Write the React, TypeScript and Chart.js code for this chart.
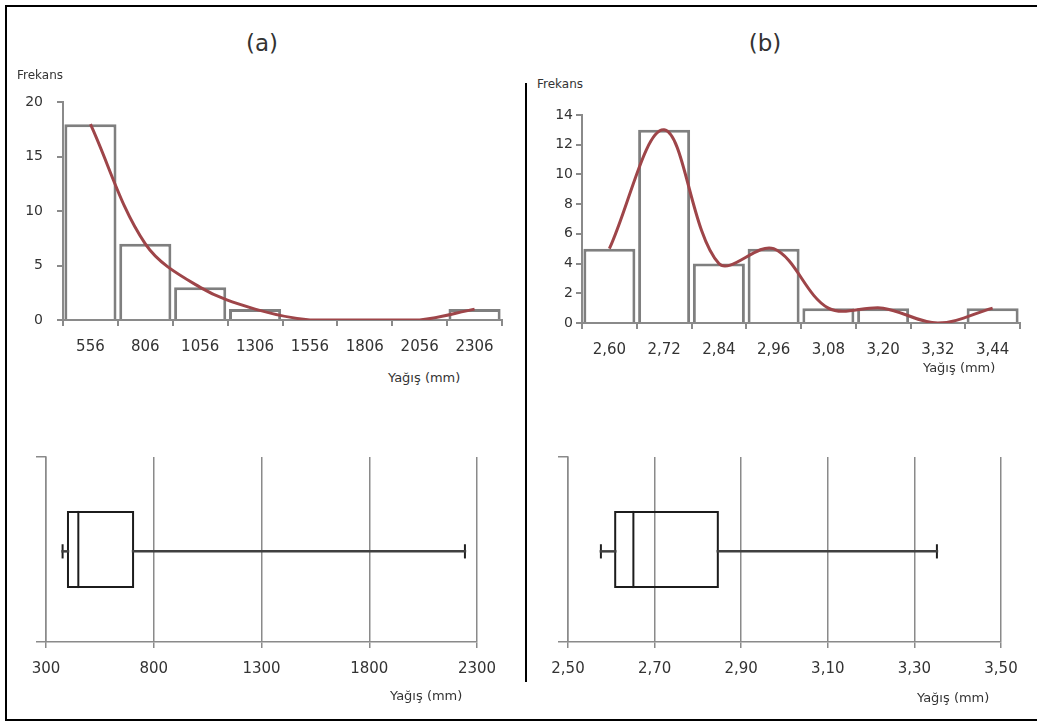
import React, { useEffect, useRef } from "react";
import { Chart, registerables } from "chart.js";

Chart.register(...registerables);

// ---------- data ----------
const histACategories = ["556", "806", "1056", "1306", "1556", "1806", "2056", "2306"];
const histAFrequency = [18, 7, 3, 1, 0, 0, 0, 1];
const histACurve = [18, 7, 3, 1, 0, 0, 0, 1];
const histAYTicks = [0, 5, 10, 15, 20];

const histBCategories = ["2,60", "2,72", "2,84", "2,96", "3,08", "3,20", "3,32", "3,44"];
const histBFrequency = [5, 13, 4, 5, 1, 1, 0, 1];
const histBCurve = [5, 13, 4, 5, 1, 1, 0, 1];
const histBYTicks = [0, 2, 4, 6, 8, 10, 12, 14];

// min, Q1, median, Q3, max
const boxAStats = [377, 402, 450, 704, 2244];
const boxATicks = [300, 800, 1300, 1800, 2300];
const boxBStats = [2.576, 2.609, 2.651, 2.846, 3.352];
const boxBTicks = [2.5, 2.7, 2.9, 3.1, 3.3, 3.5];

// ---------- styles ----------
const FONT = "'DejaVu Sans', Verdana, sans-serif";
const TEXT = "#333333";
const AXIS = "#8a8a8a";

function histConfig(
  labels: string[],
  freq: number[],
  curve: number[],
  yTicks: number[],
  yWidth: number,
  xHeight: number,
  yPad: number,
  padding: any
): any {
  return {
    type: "bar",
    data: {
      labels,
      datasets: [
        {
          type: "line",
          data: curve,
          borderColor: "#9e4549",
          borderWidth: 3,
          pointRadius: 0,
          tension: 0.35,
          fill: false,
          order: 0,
        },
        {
          type: "bar",
          data: freq,
          backgroundColor: "#ffffff",
          borderColor: "#7f7f7f",
          borderWidth: 3,
          categoryPercentage: 1,
          barPercentage: 0.95,
          order: 1,
        },
      ],
    },
    options: {
      animation: false,
      responsive: false,
      layout: { padding },
      plugins: { legend: { display: false }, tooltip: { enabled: false } },
      scales: {
        x: {
          offset: true,
          grid: { offset: true, drawOnChartArea: false, drawTicks: true, tickLength: 6, color: AXIS, lineWidth: 2 },
          border: { color: AXIS, width: 2 },
          ticks: { font: { family: FONT, size: 15 }, color: TEXT, padding: 12, maxRotation: 0, autoSkip: false },
          afterFit: (s: any) => { s.height = xHeight; },
        },
        y: {
          min: yTicks[0],
          max: yTicks[yTicks.length - 1],
          afterBuildTicks: (s: any) => { s.ticks = yTicks.map((v) => ({ value: v })); },
          grid: { drawOnChartArea: false, drawTicks: true, tickLength: 6, color: AXIS, lineWidth: 2 },
          border: { color: AXIS, width: 2 },
          ticks: { font: { family: FONT, size: 14 }, color: TEXT, padding: yPad },
          afterFit: (s: any) => { s.width = yWidth; },
        },
      },
    },
  };
}

function boxConfig(
  stats: number[],
  ticks: number[],
  fmt: (v: number) => string,
  yWidth: number,
  xHeight: number,
  padding: any
): any {
  const [mn, q1, md, q3, mx] = stats;
  const lo = 0.297, hi = 0.703, mid = 0.49, cap = 0.033;
  const line = (pts: any[], color: string, width: number) => ({
    data: pts,
    showLine: true,
    borderColor: color,
    borderWidth: width,
    pointRadius: 0,
    tension: 0,
    fill: false,
    borderJoinStyle: "miter",
    borderCapStyle: "square",
  });
  return {
    type: "scatter",
    data: {
      datasets: [
        line([{ x: mn, y: mid }, { x: q1, y: mid }], "#404040", 2.5),
        line([{ x: q3, y: mid }, { x: mx, y: mid }], "#404040", 2.5),
        line([{ x: mn, y: mid - cap }, { x: mn, y: mid + cap }], "#202020", 2),
        line([{ x: mx, y: mid - cap }, { x: mx, y: mid + cap }], "#202020", 2),
        line(
          [
            { x: q1, y: lo },
            { x: q3, y: lo },
            { x: q3, y: hi },
            { x: q1, y: hi },
            { x: q1, y: lo },
          ],
          "#1c1c1c",
          2
        ),
        line([{ x: md, y: lo }, { x: md, y: hi }], "#1c1c1c", 2),
      ],
    },
    options: {
      animation: false,
      responsive: false,
      layout: { padding },
      plugins: { legend: { display: false }, tooltip: { enabled: false } },
      scales: {
        x: {
          type: "linear",
          min: ticks[0],
          max: ticks[ticks.length - 1],
          afterBuildTicks: (s: any) => { s.ticks = ticks.map((v) => ({ value: v })); },
          grid: { drawOnChartArea: true, drawTicks: true, tickLength: 6, color: AXIS, lineWidth: 1.5 },
          border: { color: AXIS, width: 1.5 },
          ticks: { font: { family: FONT, size: 15 }, color: TEXT, padding: 12, maxRotation: 0, autoSkip: false, callback: (v: any) => fmt(Number(v)) },
          afterFit: (s: any) => { s.height = xHeight; },
        },
        y: {
          type: "linear",
          min: 0,
          max: 1,
          afterBuildTicks: (s: any) => { s.ticks = [{ value: 0 }, { value: 1 }]; },
          grid: { drawOnChartArea: false, drawTicks: true, tickLength: 10, color: AXIS, lineWidth: 1.5 },
          border: { color: AXIS, width: 1.5 },
          ticks: { display: false },
          afterFit: (s: any) => { s.width = yWidth; },
        },
      },
    },
  };
}

const textStyle = (left: number, top: number, size: number, extra: any = {}): React.CSSProperties => ({
  position: "absolute",
  left,
  top,
  fontFamily: FONT,
  fontSize: size,
  color: TEXT,
  whiteSpace: "nowrap",
  lineHeight: 1,
  ...extra,
});

export default function App() {
  const hA = useRef<HTMLCanvasElement>(null);
  const hB = useRef<HTMLCanvasElement>(null);
  const bA = useRef<HTMLCanvasElement>(null);
  const bB = useRef<HTMLCanvasElement>(null);

  useEffect(() => {
    const charts: Chart[] = [];
    charts.push(
      new Chart(hA.current!, histConfig(histACategories, histAFrequency, histACurve, histAYTicks, 55, 50, 14, { top: 15, right: 16, left: 0, bottom: 0 }))
    );
    charts.push(
      new Chart(hB.current!, histConfig(histBCategories, histBFrequency, histBCurve, histBYTicks, 52, 47, 3, { top: 20, right: 15, left: 0, bottom: 0 }))
    );
    charts.push(
      new Chart(bA.current!, boxConfig(boxAStats, boxATicks, (v) => String(Math.round(v)), 46, 68, { top: 17, right: 43, left: 0, bottom: 0 }))
    );
    charts.push(
      new Chart(bB.current!, boxConfig(boxBStats, boxBTicks, (v) => v.toFixed(2).replace(".", ","), 40, 68, { top: 17, right: 36, left: 0, bottom: 0 }))
    );
    return () => charts.forEach((c) => c.destroy());
  }, []);

  return (
    <div style={{ position: "absolute", left: 0, top: 0, width: 1037, height: 723, overflow: "hidden", background: "#fff" }}>
      <div
        style={{
          position: "absolute",
          left: 5,
          top: 5,
          width: 1050,
          height: 712,
          borderTop: "2px solid #000",
          borderLeft: "2px solid #000",
          borderBottom: "2px solid #000",
        }}
      />
      <div style={{ position: "absolute", left: 525, top: 83, width: 2, height: 599, background: "#000" }} />

      <canvas ref={hA} width={510} height={290} style={{ position: "absolute", left: 8, top: 80 }} />
      <canvas ref={hB} width={505} height={275} style={{ position: "absolute", left: 530, top: 95 }} />
      <canvas ref={bA} width={520} height={270} style={{ position: "absolute", left: 0, top: 440 }} />
      <canvas ref={bB} width={509} height={270} style={{ position: "absolute", left: 528, top: 440 }} />

      <div style={textStyle(262, 32, 23, { transform: "translateX(-50%)" })}>(a)</div>
      <div style={textStyle(765, 32, 23, { transform: "translateX(-50%)" })}>(b)</div>
      <div style={textStyle(17, 69, 12)}>Frekans</div>
      <div style={textStyle(537, 78, 12)}>Frekans</div>
      <div style={textStyle(388, 371, 13)}>Yağış (mm)</div>
      <div style={textStyle(923, 361, 13)}>Yağış (mm)</div>
      <div style={textStyle(390, 689, 13)}>Yağış (mm)</div>
      <div style={textStyle(917, 691, 13)}>Yağış (mm)</div>
    </div>
  );
}
